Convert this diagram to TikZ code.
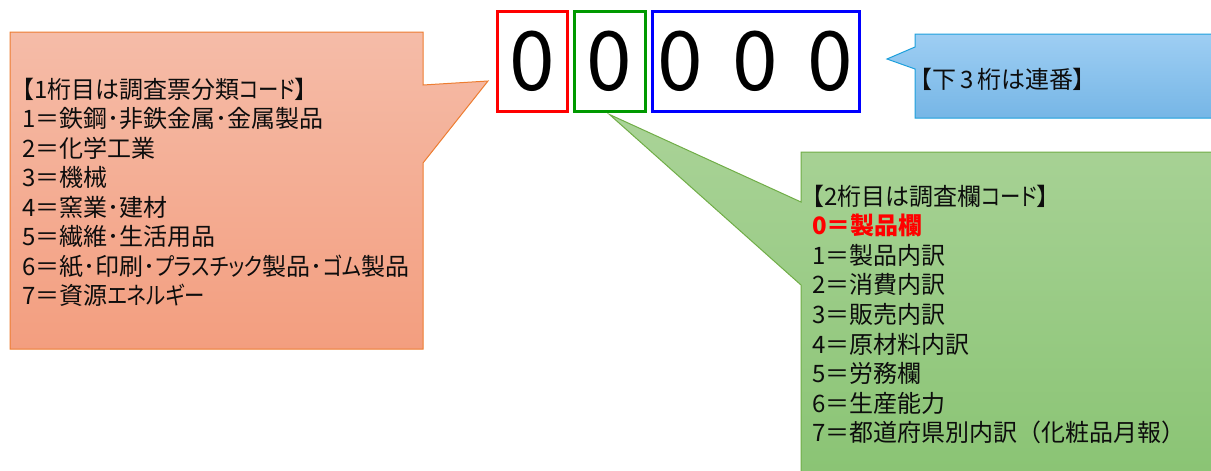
\documentclass[tikz,border=0pt]{standalone}
\usepackage{graphicx}
\usepackage{fontspec}
\setmainfont{Noto Sans CJK JP}[RawFeature={+palt}]
\newfontfamily\fullwidth{Noto Sans CJK JP}
% narrow kana runs
\newcommand\kn[1]{\scalebox{0.85}[1]{#1}}
\definecolor{boxred}{RGB}{255,0,0}
\definecolor{boxgreen}{RGB}{0,153,0}
\definecolor{boxblue}{RGB}{0,0,255}
\definecolor{orangeline}{RGB}{237,125,49}
\definecolor{orangetop}{RGB}{245,188,168}
\definecolor{orangebot}{RGB}{243,158,127}
\definecolor{blueline}{RGB}{30,160,220}
\definecolor{bluetop}{RGB}{158,206,243}
\definecolor{bluebot}{RGB}{118,182,230}
\definecolor{greenline}{RGB}{112,173,71}
\definecolor{greentop}{RGB}{170,211,152}
\definecolor{greenbot}{RGB}{138,196,116}
\definecolor{ink}{RGB}{13,13,13}
\tikzset{
  digitbox/.style={draw, line width=3pt, inner sep=0pt, minimum height=100pt,
    font=\fontsize{82}{82}\selectfont, text=black},
  calloutorange/.style={draw=orangeline, line width=1pt, top color=orangetop, bottom color=orangebot},
  calloutblue/.style={draw=blueline, line width=1pt, top color=bluetop, bottom color=bluebot},
  calloutgreen/.style={draw=greenline, line width=1pt, top color=greentop, bottom color=greenbot},
  txt/.style={anchor=base west, inner sep=0pt, text=ink, font=\fontsize{24}{29.5}\selectfont},
}
\begin{document}
\begin{tikzpicture}[x=1pt,y=-1pt]
\useasboundingbox (0,0) rectangle (1211,471);
\clip (0,0) rectangle (1211,471);

% code digit boxes
\node[digitbox, draw=boxred, minimum width=70pt] (d1) at (532,61) {0};
\node[digitbox, draw=boxgreen, minimum width=71pt] (d2) at (609.5,61) {0};
\node[digitbox, draw=boxblue, minimum width=207pt] (d3) at (755.5,61) {0\hspace{29.5pt}0\hspace{29.5pt}0};

% pointer tips of the callouts
\coordinate (tipL) at (488,81);
\coordinate (tipB) at (887,59);
\coordinate (tipG) at ([yshift=-2pt]d2.south);

% first-digit callout
\path[calloutorange] (10,32) -- (423,32) -- (423,85) -- (tipL) -- (423,163)
  -- (423,349) -- (10,349) -- cycle;
% last-three-digits callout
\path[calloutblue] (915,34) -- (1216,34) -- (1216,118) -- (915,118) -- (915,69)
  -- (tipB) -- (915,47) -- cycle;
% second-digit callout
\path[calloutgreen] (801,152) -- (1216,152) -- (1216,476) -- (801,476) -- (801,285)
  -- (tipG) -- (801,202) -- cycle;

% first-digit list
\node[txt] (a0) at (22,98)    {【1桁目は調査票分類\kn{コード}】};
\node[txt] (a1) at (22,127.5) {1＝鉄鋼･非鉄金属･金属製品};
\node[txt] (a2) at (22,157)   {2＝化学工業};
\node[txt] (a3) at (22,186.5) {3＝機械};
\node[txt] (a4) at (22,216)   {4＝窯業･建材};
\node[txt] (a5) at (22,245.5) {5＝繊維･生活用品};
\node[txt] (a6) at (22,275)   {6＝紙･印刷･\kn{プラスチック}製品･\kn{ゴム}製品};
\node[txt] (a7) at (22,304.5) {7＝資源\kn{エネルギー}};

% last-three-digits note
\node[txt] (b0) at (920,88) {【下\,3\,桁は連番】};

% second-digit list
\node[txt] (c0) at (812,205)   {【2桁目は調査欄\kn{コード}】};
\node[txt, text=boxred, font=\fontsize{24}{29.5}\selectfont\bfseries] (c1) at (812,234.6) {0＝製品欄};
\node[txt] (c2) at (812,264.2) {1＝製品内訳};
\node[txt] (c3) at (812,293.8) {2＝消費内訳};
\node[txt] (c4) at (812,323.4) {3＝販売内訳};
\node[txt] (c5) at (812,353)   {4＝原材料内訳};
\node[txt] (c6) at (812,382.6) {5＝労務欄};
\node[txt] (c7) at (812,412.2) {6＝生産能力};
\node[txt] (c8) at (812,441.8) {7＝都道府県別内訳{\fullwidth （}化粧品月報{\fullwidth ）}};
\end{tikzpicture}
\end{document}
